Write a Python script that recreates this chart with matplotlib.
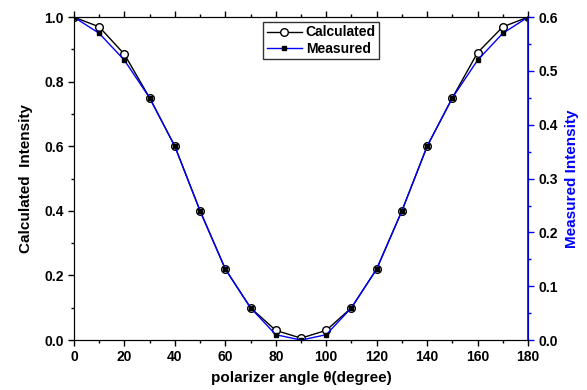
import matplotlib
matplotlib.use("Agg")
import matplotlib.pyplot as plt
from matplotlib.ticker import MultipleLocator, FormatStrFormatter

plt.rcParams['font.family'] = ['Liberation Sans', 'DejaVu Sans']
plt.rcParams['font.weight'] = 'bold'

angles = [0, 10, 20, 30, 40, 50, 60, 70, 80, 90, 100, 110, 120, 130, 140, 150, 160, 170, 180]
calculated = [1.0, 0.97, 0.885, 0.75, 0.60, 0.40, 0.22, 0.10, 0.03, 0.006, 0.03, 0.10, 0.22, 0.40, 0.60, 0.75, 0.89, 0.97, 1.0]
measured = [0.60, 0.57, 0.52, 0.45, 0.36, 0.24, 0.132, 0.06, 0.01, 0.0, 0.01, 0.06, 0.132, 0.24, 0.36, 0.45, 0.52, 0.57, 0.60]

fig = plt.figure(figsize=(5.87, 3.90), dpi=100)
ax = fig.add_axes([0.126, 0.128, 0.7735, 0.828])
ax2 = ax.twinx()

l1, = ax.plot(angles, calculated, color='black', lw=1.0, marker='o', ms=5.5,
              mfc='white', mec='black', label='Calculated')
l2, = ax2.plot(angles, measured, color='blue', lw=1.0, marker='s', ms=3.5,
               mfc='black', mec='black', label='Measured')

ax.set_xlim(0, 180)
ax.set_ylim(0, 1.0)
ax2.set_ylim(0, 0.6)
ax.xaxis.set_major_locator(MultipleLocator(20))
ax.xaxis.set_minor_locator(MultipleLocator(10))
ax.yaxis.set_major_locator(MultipleLocator(0.2))
ax.yaxis.set_minor_locator(MultipleLocator(0.1))
ax.yaxis.set_major_formatter(FormatStrFormatter('%.1f'))
ax2.yaxis.set_major_locator(MultipleLocator(0.1))
ax2.yaxis.set_minor_locator(MultipleLocator(0.05))
ax2.yaxis.set_major_formatter(FormatStrFormatter('%.1f'))

ax.tick_params(axis='both', which='major', direction='out', length=4, width=1, labelsize=10)
ax.tick_params(axis='both', which='minor', direction='out', length=2.5, width=1)
ax.tick_params(axis='x', top=True, which='both')
ax2.tick_params(axis='y', which='major', direction='out', length=4, width=1, labelsize=10, colors='blue', labelcolor='black')
ax2.tick_params(axis='y', which='minor', direction='out', length=2.5, width=1, colors='blue')
ax2.spines['right'].set_color('blue')
ax2.spines['right'].set_linewidth(1.2)

ax.set_xlabel('polarizer angle \u03b8(degree)', fontsize=11, fontweight='bold', labelpad=5)
ax.set_ylabel('Calculated  Intensity', fontsize=11, fontweight='bold', labelpad=8)
ax2.set_ylabel('Measured Intensity', fontsize=11, fontweight='bold', color='blue', labelpad=5)

leg = ax2.legend(handles=[l1, l2], loc='upper center', bbox_to_anchor=(0.545, 0.985),
                 frameon=True, fancybox=False, edgecolor='black',
                 handlelength=2.5, handletextpad=0.3, borderpad=0.25, labelspacing=0.15,
                 borderaxespad=0, prop={'weight': 'bold', 'size': 10})
leg.get_frame().set_linewidth(1.0)

fig.savefig('out.png', dpi=100)
